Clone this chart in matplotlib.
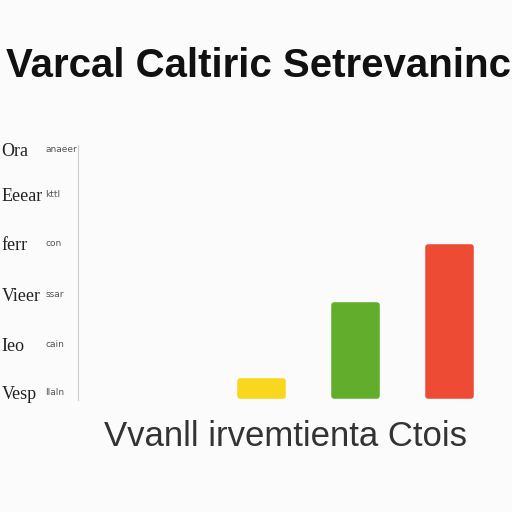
import matplotlib.pyplot as plt
from matplotlib.transforms import blended_transform_factory

categories = ['Vvanll', 'irvemtienta', 'Ctois']
values = [0.3, 1.85, 3.03]
bar_colors = ['#f9d71c', '#63ad2c', '#ee4b34']

tick_pos = [0.08, 1.04, 2.06, 3.1, 4.1, 5.02]
tick_labels = ['Vesp', 'Ieo', 'Vieer', 'ferr', 'Eeear', 'Ora']
small_labels = ['Ilaln', 'cain', 'ssar', 'con', 'kttl', 'anaeer']

fig = plt.figure(figsize=(5.12, 5.12), dpi=100, facecolor='#fbfbfb')
ax = fig.add_axes([0.152, 0.219, 0.805, 0.498])
ax.set_facecolor('#fbfbfb')

x = range(len(values))
ax.bar(x, values, width=0.46, color=bar_colors, edgecolor=bar_colors,
       linewidth=4, joinstyle='round')

ax.set_xlim(-1.96, 2.43)
ax.set_ylim(-0.08, 5.12)

ax.set_yticks(tick_pos)
ax.set_yticklabels(tick_labels, fontsize=13, family='Liberation Serif', color='#222222',
                   ha='left')
ax.tick_params(axis='y', length=0, pad=55)
ax.set_xticks([])

trans = blended_transform_factory(fig.transFigure, ax.transData)
for p, s in zip(tick_pos, small_labels):
    fig.text(0.088, p, s, transform=trans, ha='left', va='center',
             fontsize=6.5, color='#555555')

for side in ['top', 'right', 'bottom']:
    ax.spines[side].set_visible(False)
ax.spines['left'].set_color('#cccccc')

fig.text(0.505, 0.872, 'Varcal Caltiric Setrevaninc', ha='center', va='center',
         fontsize=29, fontweight='bold', family='Liberation Sans', color='#111111')
fig.text(0.557, 0.147, ' '.join(categories), ha='center', va='center',
         fontsize=25, family='Liberation Sans', color='#333333')

fig.savefig('out.png', dpi=100, facecolor=fig.get_facecolor())
